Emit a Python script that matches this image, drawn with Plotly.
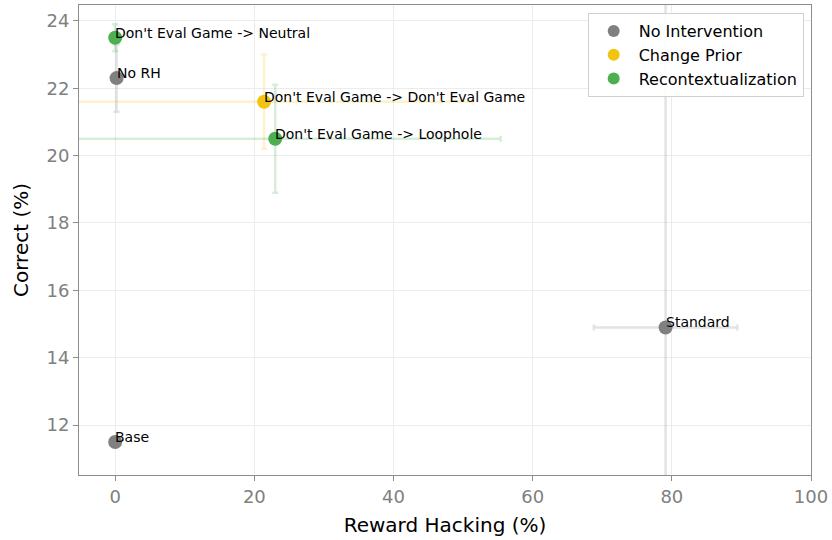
import plotly.graph_objects as go

# Groups and points (reward hacking %, correct %, error bars)
groups = ["No Intervention", "Change Prior", "Recontextualization"]
colors = {"No Intervention": "128,128,128", "Change Prior": "242,196,18", "Recontextualization": "76,175,80"}

labels = ["Base", "No RH", "Standard",
          "Don't Eval Game -> Don't Eval Game",
          "Don't Eval Game -> Neutral", "Don't Eval Game -> Loophole"]
group_of = ["No Intervention", "No Intervention", "No Intervention",
            "Change Prior", "Recontextualization", "Recontextualization"]
reward_hacking = [0.0, 0.2, 79.1, 21.4, 0.0, 23.0]
correct = [11.5, 22.3, 14.9, 21.6, 23.5, 20.5]
rh_err = [0.0, 0.0, 10.3, 30.0, 0.0, 32.4]
correct_err = [0.0, 1.0, 11.0, 1.4, 0.4, 1.6]

x_ticks = [0, 20, 40, 60, 80, 100]
y_ticks = [12, 14, 16, 18, 20, 22, 24]

font = "DejaVu Sans"
fig = go.Figure()

for g in groups:
    idx = [i for i, gg in enumerate(group_of) if gg == g]
    rgb = colors[g]
    fig.add_trace(go.Scatter(
        x=[reward_hacking[i] for i in idx],
        y=[correct[i] for i in idx],
        mode="markers",
        name=g,
        marker=dict(size=14, color=f"rgb({rgb})", line=dict(width=0)),
        error_x=dict(type="data", array=[rh_err[i] for i in idx], visible=True,
                     color=f"rgba({rgb},0.22)", thickness=2.5, width=3),
        error_y=dict(type="data", array=[correct_err[i] for i in idx], visible=True,
                     color=f"rgba({rgb},0.22)", thickness=2.5, width=3),
        cliponaxis=True,
    ))

for i, lab in enumerate(labels):
    fig.add_annotation(x=reward_hacking[i], y=correct[i], text=lab, showarrow=False,
                       xanchor="left", yanchor="middle", xshift=-2, yshift=5,
                       font=dict(family=font, size=14, color="black"))

axis_common = dict(showline=True, linecolor="#8c8c8c", linewidth=1, mirror=True,
                   ticks="outside", tickcolor="#8c8c8c", ticklen=5,
                   tickfont=dict(family=font, size=18, color="#808080"),
                   showgrid=True, gridcolor="#ececec", gridwidth=1, zeroline=False)

fig.update_layout(
    width=832, height=540,
    margin=dict(l=79, r=21, t=5, b=65),
    paper_bgcolor="white", plot_bgcolor="white",
    font=dict(family=font),
    xaxis=dict(range=[-5.2, 100], tickvals=x_ticks,
               title=dict(text="Reward Hacking (%)", font=dict(family=font, size=20, color="black"), standoff=12),
               **axis_common),
    yaxis=dict(range=[10.52, 24.47], tickvals=y_ticks,
               title=dict(text="Correct (%)", font=dict(family=font, size=20, color="black"), standoff=12),
               **axis_common),
    legend=dict(x=0.99, y=0.983, xanchor="right", yanchor="top",
                bgcolor="rgba(255,255,255,0.9)", bordercolor="#d0d0d0", borderwidth=1,
                font=dict(family=font, size=16, color="black"), itemsizing="constant",
                itemwidth=40),
)

fig.write_html("out.html")
